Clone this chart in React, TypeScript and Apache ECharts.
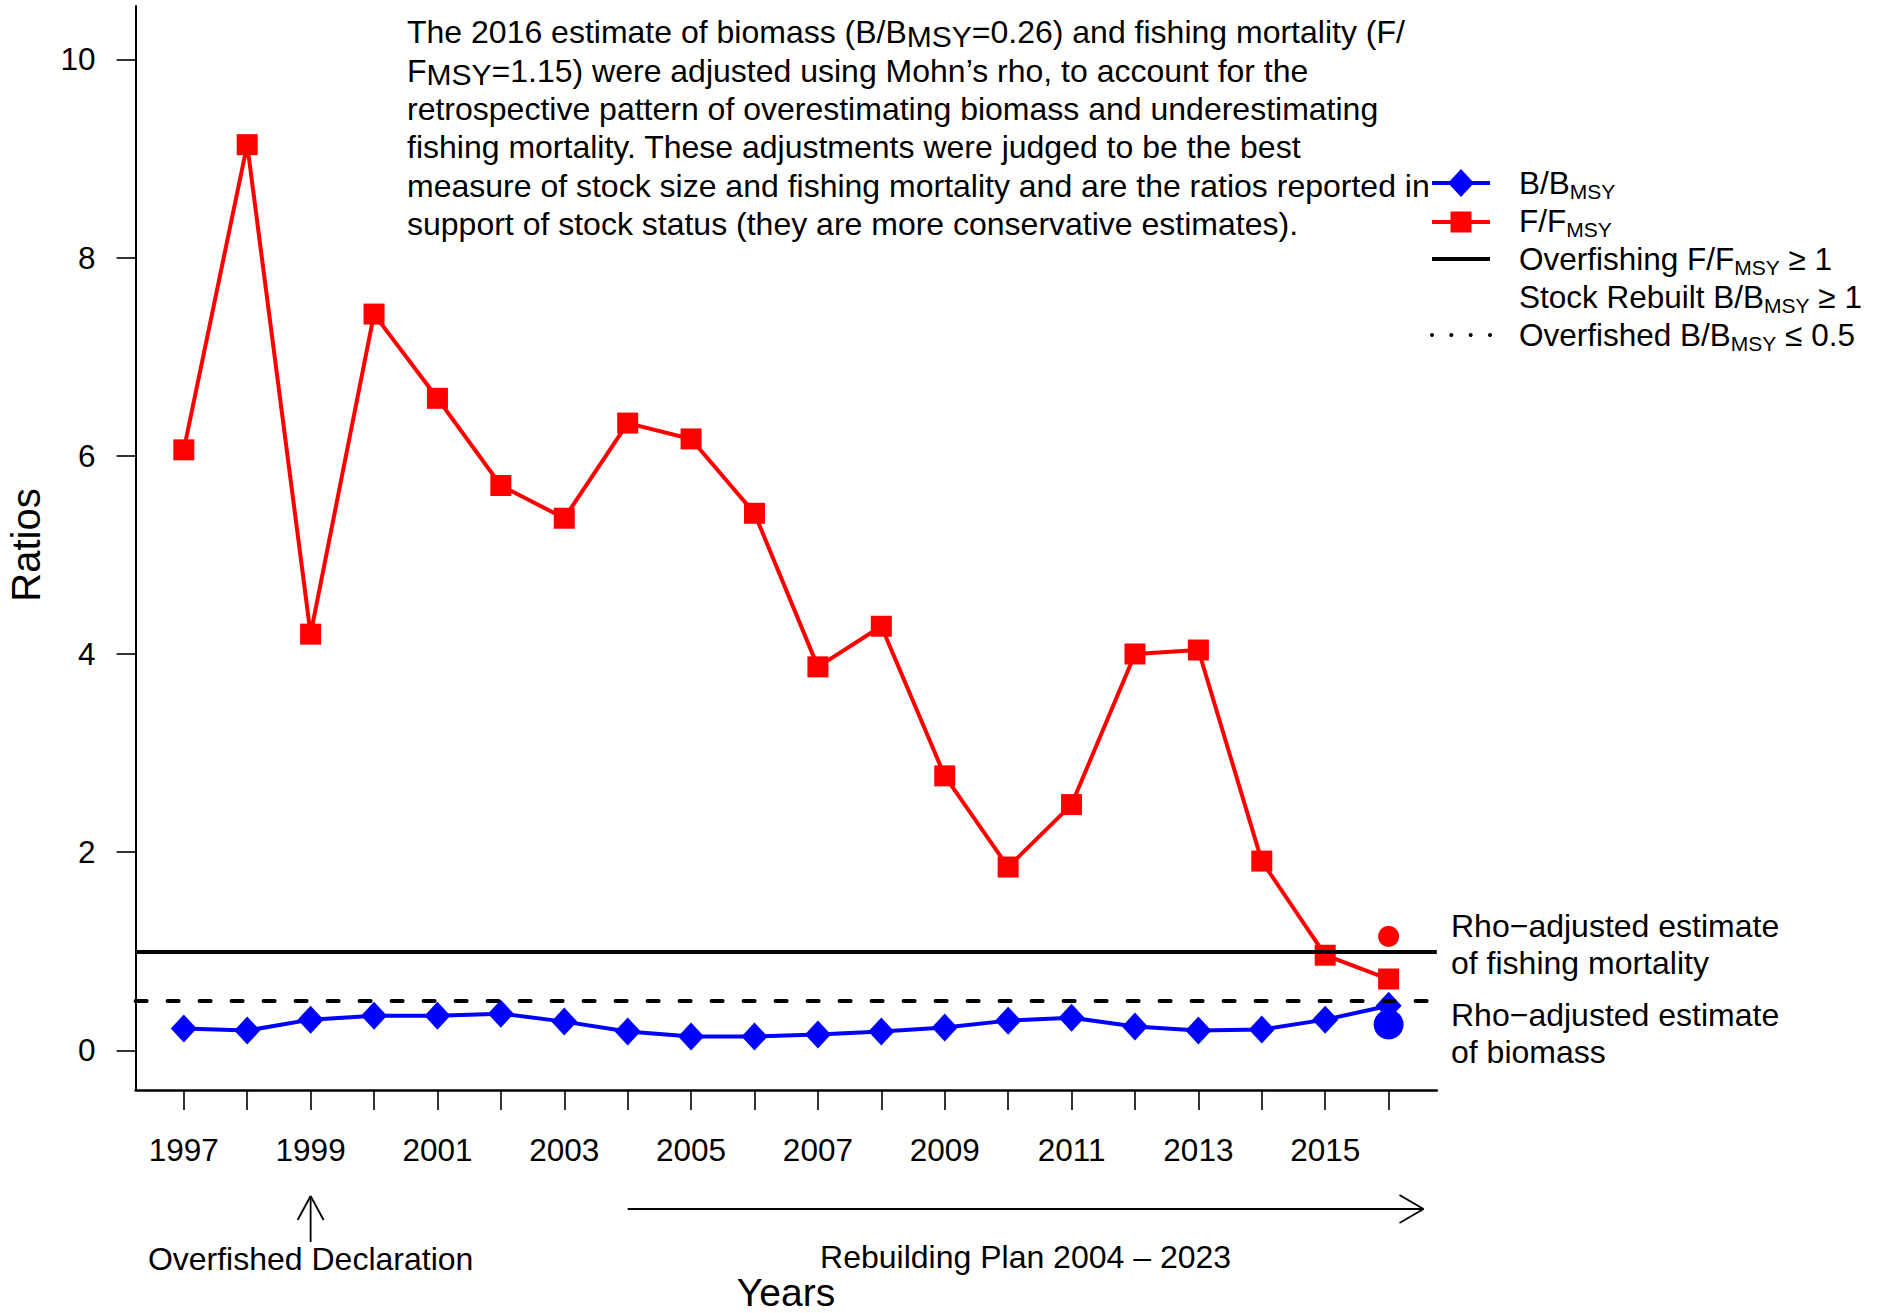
import React, { useEffect, useRef } from "react";
import * as echarts from "echarts";

// ---------------- data ----------------
const years = [1997, 1998, 1999, 2000, 2001, 2002, 2003, 2004, 2005, 2006, 2007, 2008, 2009, 2010, 2011, 2012, 2013, 2014, 2015, 2016];
const fOverFmsy = [6.06, 9.14, 4.2, 7.43, 6.58, 5.7, 5.37, 6.33, 6.17, 5.42, 3.87, 4.28, 2.77, 1.85, 2.48, 4.0, 4.04, 1.91, 0.96, 0.72];
const bOverBmsy = [0.22, 0.2, 0.31, 0.35, 0.35, 0.37, 0.29, 0.19, 0.14, 0.14, 0.16, 0.19, 0.23, 0.3, 0.33, 0.24, 0.2, 0.21, 0.31, 0.45];
const rhoYear = 2016;
const rhoAdjustedF = 1.15;
const rhoAdjustedB = 0.26;
const overfishingThreshold = 1;
const overfishedThreshold = 0.5;
const yTickValues = [0, 2, 4, 6, 8, 10];
const xTickYears = years;
const xLabelYears = years.filter((y) => y % 2 === 1);
const overfishedDeclarationYear = 1999;
const rebuildingStartYear = 2004;
const rebuildingArrowEnd = 2016.55;

const FONT = '"Liberation Sans", Arial, Helvetica, sans-serif';
const RED = "#ff0000";
const BLUE = "#0000ff";

export default function App() {
  const ref = useRef<HTMLDivElement>(null);

  useEffect(() => {
    document.body.style.margin = "0";
    const chart = echarts.init(ref.current as HTMLDivElement, null, { renderer: "svg" });

    const option: any = {
      animation: false,
      backgroundColor: "#ffffff",
      textStyle: { fontFamily: FONT },
      grid: {
        left: 135.6,
        top: 5.9,
        width: 1301.2,
        height: 1084.1,
        containLabel: false,
        outerBoundsMode: "none",
      },
      xAxis: {
        type: "value",
        min: 1996.24,
        max: 2016.76,
        splitLine: { show: false },
        axisLine: { show: true, onZero: false, lineStyle: { color: "#000", width: 2.5 } },
        axisTick: {
          show: true,
          inside: false,
          length: 20,
          customValues: xTickYears,
          lineStyle: { color: "#000", width: 1.6 },
        },
        axisLabel: {
          show: true,
          customValues: xLabelYears,
          margin: 44,
          color: "#000",
          fontSize: 31.5,
          fontFamily: FONT,
          formatter: (v: number) => String(v),
        },
      },
      yAxis: {
        type: "value",
        min: -0.4,
        max: 10.54,
        splitLine: { show: false },
        axisLine: { show: true, onZero: false, lineStyle: { color: "#000", width: 2 } },
        axisTick: {
          show: true,
          inside: false,
          length: 19,
          customValues: yTickValues,
          lineStyle: { color: "#000", width: 1.6 },
        },
        axisLabel: {
          show: true,
          customValues: yTickValues,
          margin: 40,
          color: "#000",
          fontSize: 31.5,
          fontFamily: FONT,
          formatter: (v: number) => String(v),
        },
      },
      series: [
        {
          name: "B/BMSY",
          type: "line",
          z: 2,
          silent: true,
          data: years.map((y, i) => [y, bOverBmsy[i]]),
          symbol: "diamond",
          symbolSize: [26, 28],
          showSymbol: true,
          itemStyle: { color: BLUE, opacity: 1 },
          lineStyle: { color: BLUE, width: 4 },
        },
        {
          name: "F/FMSY",
          type: "line",
          z: 3,
          silent: true,
          data: years.map((y, i) => [y, fOverFmsy[i]]),
          symbol: "rect",
          symbolSize: 21,
          showSymbol: true,
          itemStyle: { color: RED, opacity: 1 },
          lineStyle: { color: RED, width: 4 },
        },
        {
          name: "thresholds",
          type: "line",
          z: 4,
          silent: true,
          data: [],
          markLine: {
            silent: true,
            symbol: ["none", "none"],
            label: { show: false },
            data: [
              { yAxis: overfishingThreshold, lineStyle: { color: "#000", width: 4, type: "solid" } },
              { yAxis: overfishedThreshold, lineStyle: { color: "#000", width: 4, type: [11, 21], cap: "round" } },
            ],
          },
        },
        {
          name: "Rho-adjusted F",
          type: "scatter",
          z: 5,
          silent: true,
          data: [[rhoYear, rhoAdjustedF]],
          symbol: "circle",
          symbolSize: 21,
          itemStyle: { color: RED, opacity: 1 },
        },
        {
          name: "Rho-adjusted B",
          type: "scatter",
          z: 5,
          silent: true,
          data: [[rhoYear, rhoAdjustedB]],
          symbol: "circle",
          symbolSize: 30,
          itemStyle: { color: BLUE, opacity: 1 },
        },
      ],
    };

    chart.setOption(option);

    const px = (x: number, y: number) => chart.convertToPixel({ gridIndex: 0 }, [x, y]) as number[];
    const decX = px(overfishedDeclarationYear, 0)[0];
    const rebX1 = px(rebuildingStartYear, 0)[0];
    const rebX2 = px(rebuildingArrowEnd, 0)[0];
    const rebMid = (rebX1 + rebX2) / 2;

    const mainRich = {
      m: { fontSize: 32, fontFamily: FONT, fill: "#000", lineHeight: 38.3, verticalAlign: "middle" },
      s: { fontSize: 30, fontFamily: FONT, fill: "#000", lineHeight: 30, verticalAlign: "bottom" },
    };
    const noteText = [
      "{m|The 2016 estimate of biomass (B/B}{s|MSY}{m|=0.26) and fishing mortality (F/}",
      "{m|F}{s|MSY}{m|=1.15) were adjusted using Mohn’s rho, to account for the}",
      "{m|retrospective pattern of overestimating biomass and underestimating}",
      "{m|fishing mortality. These adjustments were judged to be the best}",
      "{m|measure of stock size and fishing mortality and are the ratios reported in}",
      "{m|support of stock status (they are more conservative estimates).}",
    ].join("\n");

    const legRich = {
      m: { fontSize: 31.5, fontFamily: FONT, fill: "#000", lineHeight: 38, verticalAlign: "middle" },
      s: { fontSize: 21, fontFamily: FONT, fill: "#000", lineHeight: 18, verticalAlign: "bottom" },
    };
    const legendText = [
      "{m|B/B}{s|MSY}",
      "{m|F/F}{s|MSY}",
      "{m|Overfishing F/F}{s|MSY}{m| ≥ 1}",
      "{m|Stock Rebuilt B/B}{s|MSY}{m| ≥ 1}",
      "{m|Overfished B/B}{s|MSY}{m| ≤ 0.5}",
    ].join("\n");

    const lx1 = 1432;
    const lx2 = 1490;
    const lxc = 1461;
    const ly = [183, 222, 259, 297, 335];

    const elements: any[] = [
      {
        type: "text",
        x: 26,
        y: 545,
        rotation: Math.PI / 2,
        style: { text: "Ratios", fontSize: 40, fontFamily: FONT, fill: "#000", align: "center", verticalAlign: "middle" },
      },
      {
        type: "text",
        x: 786,
        y: 1292,
        style: { text: "Years", fontSize: 39, fontFamily: FONT, fill: "#000", align: "center", verticalAlign: "middle" },
      },
      {
        type: "text",
        x: 407,
        y: 13.3,
        style: { text: noteText, rich: mainRich, align: "left", verticalAlign: "top", fontSize: 32, fontFamily: FONT, fill: "#000" },
      },
      // legend samples
      { type: "line", shape: { x1: lx1, y1: ly[0], x2: lx2, y2: ly[0] }, style: { stroke: BLUE, lineWidth: 4 } },
      {
        type: "polygon",
        shape: { points: [[lxc, ly[0] - 14], [lxc + 13, ly[0]], [lxc, ly[0] + 14], [lxc - 13, ly[0]]] },
        style: { fill: BLUE },
      },
      { type: "line", shape: { x1: lx1, y1: ly[1], x2: lx2, y2: ly[1] }, style: { stroke: RED, lineWidth: 4 } },
      { type: "rect", shape: { x: lxc - 10.5, y: ly[1] - 10.5, width: 21, height: 21 }, style: { fill: RED } },
      { type: "line", shape: { x1: lx1, y1: ly[2], x2: lx2, y2: ly[2] }, style: { stroke: "#000", lineWidth: 4 } },
      ...[lx1, lx1 + 19.3, lx1 + 38.7, lx2].map((cx) => ({
        type: "circle",
        shape: { cx, cy: ly[4], r: 2 },
        style: { fill: "#000" },
      })),
      {
        type: "text",
        x: 1519,
        y: ly[0] - 19,
        style: { text: legendText, rich: legRich, align: "left", verticalAlign: "top", fontSize: 31.5, fontFamily: FONT, fill: "#000" },
      },
      // rho labels
      {
        type: "text",
        x: 1451,
        y: 907,
        style: {
          text: "Rho−adjusted estimate\nof fishing mortality",
          fontSize: 32,
          lineHeight: 37.5,
          fontFamily: FONT,
          fill: "#000",
          align: "left",
          verticalAlign: "top",
        },
      },
      {
        type: "text",
        x: 1451,
        y: 996,
        style: {
          text: "Rho−adjusted estimate\nof biomass",
          fontSize: 32,
          lineHeight: 37.5,
          fontFamily: FONT,
          fill: "#000",
          align: "left",
          verticalAlign: "top",
        },
      },
      // overfished declaration arrow
      { type: "line", shape: { x1: decX, y1: 1242, x2: decX, y2: 1196 }, style: { stroke: "#000", lineWidth: 1.8 } },
      { type: "line", shape: { x1: decX, y1: 1196, x2: decX - 13, y2: 1220 }, style: { stroke: "#000", lineWidth: 1.8 } },
      { type: "line", shape: { x1: decX, y1: 1196, x2: decX + 13, y2: 1220 }, style: { stroke: "#000", lineWidth: 1.8 } },
      {
        type: "text",
        x: decX,
        y: 1259,
        style: { text: "Overfished Declaration", fontSize: 32, fontFamily: FONT, fill: "#000", align: "center", verticalAlign: "middle" },
      },
      // rebuilding plan arrow
      { type: "line", shape: { x1: rebX1, y1: 1209, x2: rebX2, y2: 1209 }, style: { stroke: "#000", lineWidth: 2 } },
      { type: "line", shape: { x1: rebX2, y1: 1209, x2: rebX2 - 24, y2: 1195 }, style: { stroke: "#000", lineWidth: 1.8 } },
      { type: "line", shape: { x1: rebX2, y1: 1209, x2: rebX2 - 24, y2: 1223 }, style: { stroke: "#000", lineWidth: 1.8 } },
      {
        type: "text",
        x: rebMid,
        y: 1257,
        style: { text: "Rebuilding Plan 2004 – 2023", fontSize: 32, fontFamily: FONT, fill: "#000", align: "center", verticalAlign: "middle" },
      },
    ];

    chart.setOption({ graphic: { elements } });

    return () => {
      chart.dispose();
    };
  }, []);

  return <div ref={ref} style={{ width: 1879, height: 1313, overflow: "hidden" }} />;
}
